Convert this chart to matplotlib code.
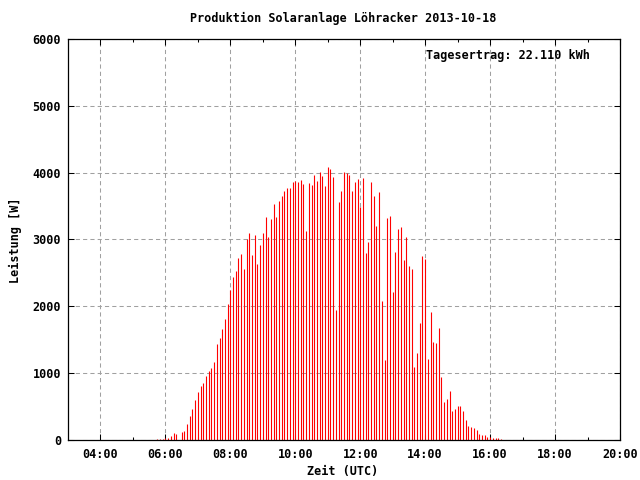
import numpy as np
import pandas as pd
import matplotlib
import matplotlib.pyplot as plt
from matplotlib.ticker import FixedLocator, FuncFormatter

matplotlib.use("Agg")

TITLE = "Produktion Solaranlage Löhracker 2013-10-18"
X_LABEL = "Zeit (UTC)"
Y_LABEL = "Leistung [W]"
YIELD_TEXT = "Tagesertrag: 22.110 kWh"

# one sample every 5 minutes from 05:45 to 16:20 (UTC), NaN = no sample
START = "2013-10-18 05:45"
END = "2013-10-18 16:20"
power_w = [
    15, 15, 15, 30, 30, 65, 110, 95, np.nan, 125, 140, 245,          # 05:45 - 06:40
    365, 470, 600, 720, 810, 855, 960, 1035, 1080, 1170, 1443, 1532,  # 06:45 - 07:40
    1662, 1811, 2035, 2249, 2438, 2527, 2721, 2781, 2557, 3005, 3094, 2766,  # 07:45 - 08:40
    3065, 2632, 2915, 3094, 3333, 3035, 3303, 3527, 3333, 3572, 3647, 3721,  # 08:45 - 09:40
    3766, 3766, 3856, 3870, 3856, 3886, 3826, 3124, 3841, 3811, 3960, 3870,  # 09:45 - 10:40
    4005, 3945, 3796, 4080, 4050, 3930, 1945, 3557, 3721, 4005, 3990, 3960,  # 10:45 - 11:40
    3721, 3856, 3900, 3483, 3915, 2796, 2960, 3856, 3647, 3199, 3706, 2080,  # 11:45 - 12:40
    1199, 3318, 3348, 2214, 2811, 3154, 3184, 2691, 3035, 2602, 2557, 1094,  # 12:45 - 13:40
    1303, 1751, 2751, 2706, 1214, 1915, 1468, 1453, 1677, 945, 572, 615,    # 13:45 - 14:40
    731, 433, 463, 507, 507, 433, 299, 209, 194, 179, 149, 90,              # 14:45 - 15:40
    75, 75, 45, 45, 30, 30, 30, 15,                                          # 15:45 - 16:20
]

X_MIN, X_MAX = 3, 20
Y_MIN, Y_MAX = 0, 6000


def hour_label(h, pos=None):
    return f"{int(h):02d}:00"


def main():
    times = pd.date_range(START, END, freq="5min")
    hours = (times.hour + times.minute / 60.0).to_numpy()
    power = np.asarray(power_w, dtype=float)
    ok = np.isfinite(power)

    plt.rcParams["font.family"] = ["DejaVu Sans Mono"]
    plt.rcParams["font.weight"] = "bold"
    plt.rcParams["font.size"] = 8.5

    fig = plt.figure(figsize=(6.4, 4.8), dpi=100)
    ax = fig.add_axes([68 / 640, 1 - 440 / 480, 552 / 640, 401 / 480])

    ax.vlines(hours[ok], 0, power[ok], colors="#ff0000", linewidth=0.8,
              zorder=2)

    ax.set_xlim(X_MIN, X_MAX)
    ax.set_ylim(Y_MIN, Y_MAX)
    ax.xaxis.set_major_locator(FixedLocator(np.arange(4, 21, 2)))
    ax.xaxis.set_minor_locator(FixedLocator(np.arange(5, 20, 2)))
    ax.xaxis.set_major_formatter(FuncFormatter(hour_label))
    ax.yaxis.set_major_locator(FixedLocator(np.arange(0, 6001, 1000)))

    ax.grid(True, which="major", color="#a0a0a0", linestyle=(0, (4, 3)),
            linewidth=0.75, zorder=1)
    ax.set_axisbelow(True)
    ax.tick_params(which="both", direction="in", top=True, right=True,
                   color="black", width=0.75)
    ax.tick_params(which="major", length=4.5)
    ax.tick_params(which="minor", length=2.5)
    ax.tick_params(axis="x", which="major", pad=6)
    ax.tick_params(axis="y", which="major", pad=5)
    for sp in ax.spines.values():
        sp.set_linewidth(0.9)
        sp.set_zorder(5)

    fig.text(343 / 640, 1 - 18 / 480, TITLE, ha="center", va="center")
    fig.text(343 / 640, 1 - 472 / 480, X_LABEL, ha="center", va="center")
    fig.text(15 / 640, 1 - 240 / 480, Y_LABEL, ha="center", va="center",
             rotation=90)
    fig.text(426 / 640, 1 - 56 / 480, YIELD_TEXT, ha="left", va="center")

    fig.savefig("out.png", dpi=100)


if __name__ == "__main__":
    main()
